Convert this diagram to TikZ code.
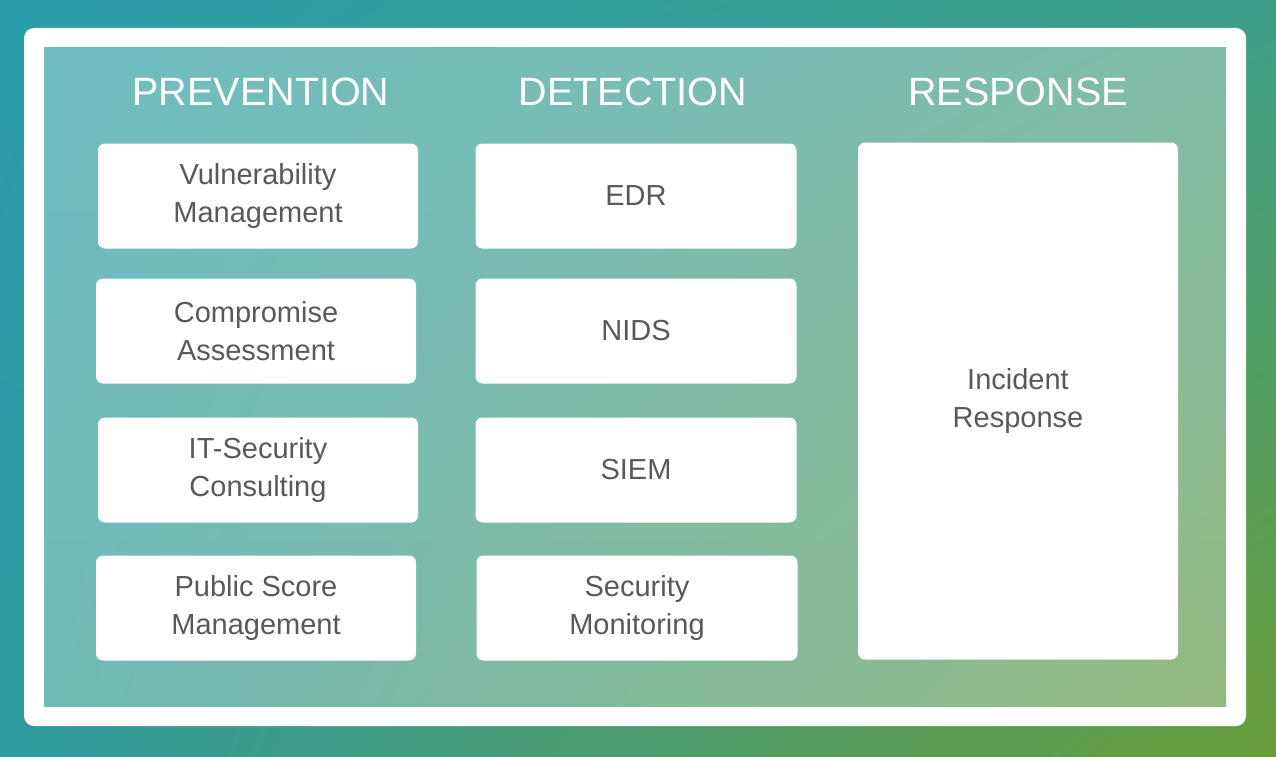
\documentclass[tikz,border=0pt]{standalone}
\usepackage{fontspec}
\setmainfont{Liberation Sans}
\usetikzlibrary{shadings}
\definecolor{txtgray}{HTML}{595959}
\definecolor{outerTL}{RGB}{42,157,170}
\definecolor{outerTR}{RGB}{60,158,136}
\definecolor{outerBL}{RGB}{47,154,160}
\definecolor{outerBR}{RGB}{106,158,58}
\definecolor{innerTL}{RGB}{111,188,194}
\definecolor{innerTR}{RGB}{128,188,168}
\definecolor{innerBL}{RGB}{114,186,184}
\definecolor{innerBR}{RGB}{150,186,128}

\begin{document}
\begin{tikzpicture}[x=1pt, y=-1pt,
    card/.style={fill=white, rounded corners=7pt, minimum width=320pt, minimum height=105pt,
      align=center, text=txtgray, font=\fontsize{29}{38}\selectfont},
    head/.style={text=white, font=\fontsize{39.5}{44}\selectfont}]
        % background and frame
        \shade[upper left=outerTL, upper right=outerTR, lower left=outerBL, lower right=outerBR]
               (0,0) rectangle (1276,757);
        \fill[white, rounded corners=10pt] (24,28) rectangle (1246,726);
        \shade[upper left=innerTL, upper right=innerTR, lower left=innerBL, lower right=innerBR]
               (44,48) rectangle (1226,706);
        % headers
        \node[head] (prev) at (261,92) {PREVENTION};
        \node[head] (det) at (633,92) {DETECTION};
        \node[head] (resp) at (1018,92) {RESPONSE};
        % prevention
        \node[card] (vm) at (258,196) {Vulnerability\\Management};
        \node[card] (ca) at (256,331) {Compromise\\Assessment};
        \node[card] (itc) at (258,470) {IT-Security\\Consulting};
        \node[card] (psm) at (256,608) {Public Score\\Management};
        % detection
        \node[card, minimum width=321pt] (edr) at (636,196) {EDR};
        \node[card, minimum width=321pt] (nids) at (636,331) {NIDS};
        \node[card, minimum width=321pt] (siem) at (636,470) {SIEM};
        \node[card, minimum width=321pt] (sm) at (637,608) {Security\\Monitoring};
        % response
        \node[card, minimum height=517pt] (ir) at (1018,401) {Incident\\Response};
\end{tikzpicture}
\end{document}
